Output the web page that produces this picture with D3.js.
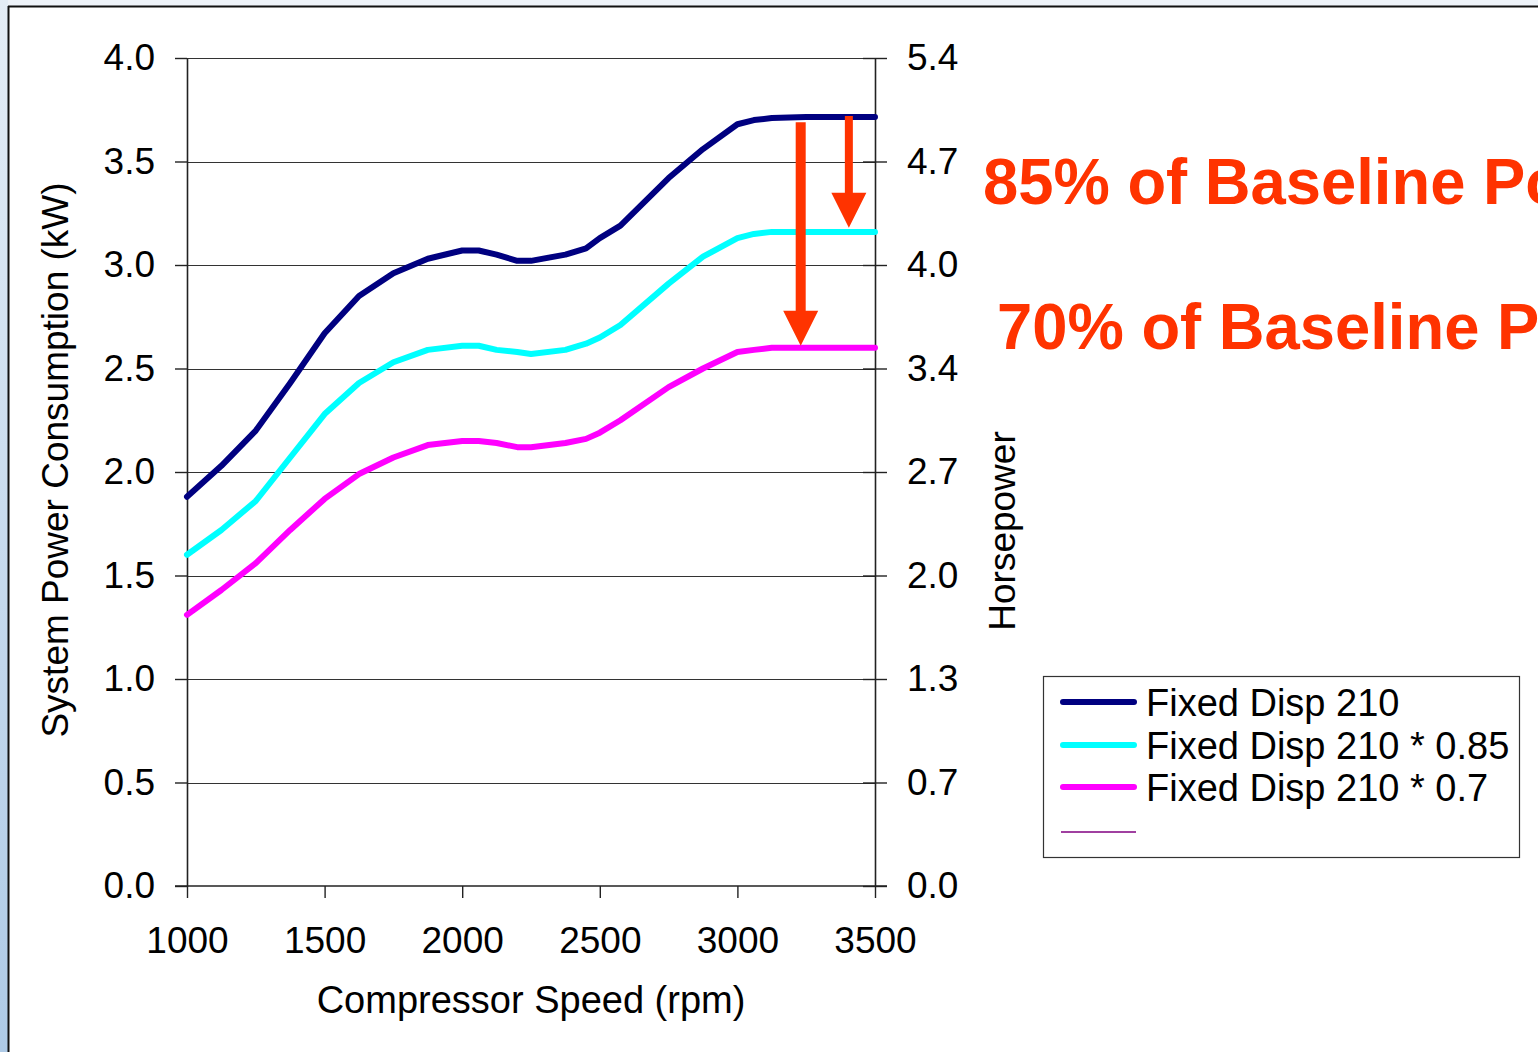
<!DOCTYPE html>
<html>
<head>
<meta charset="utf-8">
<script src="https://cdn.jsdelivr.net/npm/d3@7"></script>
<style>
  body { margin: 0; background: #eef3f9; }
  svg { display: block; }
</style>
</head>
<body>
<svg id="chart" width="1538" height="1052"></svg>
<script>
// Compressor speed samples (rpm)
const rpm = [1000, 1125, 1250, 1375, 1500, 1625, 1750, 1875, 2000, 2060, 2125, 2200, 2250,
             2375, 2450, 2500, 2575, 2750, 2875, 3000, 3060, 3125, 3250, 3500];

// System power consumption (kW)
const fixedDisp210 = [1.88, 2.03, 2.20, 2.43, 2.67, 2.85, 2.96, 3.03, 3.07, 3.07, 3.05, 3.02, 3.02,
                      3.05, 3.08, 3.13, 3.19, 3.42, 3.56, 3.68, 3.70, 3.71, 3.715, 3.715];
const fixedDisp210x085 = [1.60, 1.72, 1.86, 2.07, 2.28, 2.43, 2.53, 2.59, 2.61, 2.61, 2.59, 2.58, 2.57,
                          2.59, 2.62, 2.65, 2.71, 2.91, 3.04, 3.13, 3.15, 3.16, 3.16, 3.16];
const fixedDisp210x07 = [1.31, 1.43, 1.56, 1.72, 1.87, 1.99, 2.07, 2.13, 2.15, 2.15, 2.14, 2.12, 2.12,
                         2.14, 2.16, 2.19, 2.25, 2.41, 2.50, 2.58, 2.59, 2.60, 2.60, 2.60];

const seriesNames = ["Fixed Disp 210", "Fixed Disp 210 * 0.85", "Fixed Disp 210 * 0.7"];

// Axis ticks
const rpmTicks = [1000, 1500, 2000, 2500, 3000, 3500];
const kwTicks = [0, 0.5, 1.0, 1.5, 2.0, 2.5, 3.0, 3.5, 4.0];
const hpTickLabels = ["0.0", "0.7", "1.3", "2.0", "2.7", "3.4", "4.0", "4.7", "5.4"];

// Reduction call-outs and their arrows (rpm, from kW, to kW)
const calloutTexts = ["85% of Baseline Power", "70% of Baseline Power"];
const arrowRpm = [3405, 3230];
const arrowFromKw = [3.72, 3.69];
const arrowToKw = [3.18, 2.61];

// ---------------------------------------------------------------
const svg = d3.select("#chart");
const W = 1538, H = 1052;
const FONT = "'Liberation Sans', Arial, Helvetica, sans-serif";
const seriesColors = ["#000080", "#00ffff", "#ff00ff"];
const calloutColor = "#ff3300";

// Slide frame
const defs = svg.append("defs");
const grad = defs.append("linearGradient").attr("id", "strip").attr("x1", 0).attr("y1", 0).attr("x2", 0).attr("y2", 1);
grad.append("stop").attr("offset", "0%").attr("stop-color", "#e4edf6");
grad.append("stop").attr("offset", "100%").attr("stop-color", "#aecae6");
svg.append("rect").attr("width", W).attr("height", H).attr("fill", "#eef3f9");
svg.append("rect").attr("x", 0).attr("y", 0).attr("width", 8).attr("height", H).attr("fill", "url(#strip)");
svg.append("rect").attr("x", 8).attr("y", 6).attr("width", W - 8).attr("height", H - 6).attr("fill", "#ffffff");
svg.append("line").attr("x1", 8).attr("x2", W).attr("y1", 6.5).attr("y2", 6.5).attr("stroke", "#111").attr("stroke-width", 2);
svg.append("line").attr("x1", 8.5).attr("x2", 8.5).attr("y1", 6).attr("y2", H).attr("stroke", "#111").attr("stroke-width", 2);

// Scales
const x = d3.scaleLinear().domain([1000, 3500]).range([187, 875]);
const y = d3.scaleLinear().domain([0, 4]).range([886, 58]);

// Horizontal gridlines
svg.append("g")
  .selectAll("line")
  .data(kwTicks.filter(d => d > 0))
  .join("line")
  .attr("x1", x(1000)).attr("x2", x(3500))
  .attr("y1", d => Math.round(y(d)) + 0.5).attr("y2", d => Math.round(y(d)) + 0.5)
  .attr("stroke", "#333").attr("stroke-width", 1.2);

function styleAxis(g) {
  g.selectAll("path.domain").attr("stroke", "#222").attr("stroke-width", 1.6);
  g.selectAll(".tick line").attr("stroke", "#222").attr("stroke-width", 1.4);
  g.selectAll(".tick text").attr("font-family", FONT).attr("font-size", 37).attr("fill", "#000");
}

// Left axis (kW)
const gLeft = svg.append("g").attr("transform", `translate(${x(1000)},0)`)
  .call(d3.axisLeft(y).tickValues(kwTicks).tickFormat(d3.format(".1f")).tickSize(12).tickSizeOuter(0).tickPadding(20));
styleAxis(gLeft);

// Right axis (horsepower labels at the same positions)
const gRight = svg.append("g").attr("transform", `translate(${x(3500)},0)`)
  .call(d3.axisRight(y).tickValues(kwTicks).tickFormat((d, i) => hpTickLabels[i]).tickSize(12).tickSizeOuter(0).tickPadding(20));
styleAxis(gRight);
gRight.selectAll(".tick line").attr("x1", -12);

// Bottom axis (rpm)
const gBottom = svg.append("g").attr("transform", `translate(0,${y(0)})`)
  .call(d3.axisBottom(x).tickValues(rpmTicks).tickFormat(d3.format("d")).tickSize(12).tickSizeOuter(0).tickPadding(29));
styleAxis(gBottom);
gBottom.select("path.domain").attr("d", `M${x(1000) - 12},0H${x(3500) + 12}`);

// Axis titles
svg.append("text")
  .attr("x", x(2250)).attr("y", 1013)
  .attr("text-anchor", "middle").attr("font-family", FONT).attr("font-size", 38)
  .text("Compressor Speed (rpm)");
svg.append("text")
  .attr("transform", "translate(68,460) rotate(-90)")
  .attr("text-anchor", "middle").attr("font-family", FONT).attr("font-size", 37)
  .text("System Power Consumption (kW)");
svg.append("text")
  .attr("transform", "translate(1015,531) rotate(-90)")
  .attr("text-anchor", "middle").attr("font-family", FONT).attr("font-size", 37)
  .text("Horsepower");

// Series lines
const seriesValues = [fixedDisp210, fixedDisp210x085, fixedDisp210x07];
const line = d3.line().x(d => x(d[0])).y(d => y(d[1]));
svg.append("g")
  .selectAll("path")
  .data(seriesValues.map((vals, i) => ({ i, pts: rpm.map((r, k) => [r, vals[k]]) })).reverse())
  .join("path")
  .attr("d", d => line(d.pts))
  .attr("fill", "none")
  .attr("stroke", d => seriesColors[d.i])
  .attr("stroke-width", 6)
  .attr("stroke-linejoin", "round")
  .attr("stroke-linecap", "round");

// Arrows
const arrowShaft = [8, 10];
arrowRpm.forEach((r, i) => {
  const cx = x(r), y0 = y(arrowFromKw[i]), tip = y(arrowToKw[i]);
  const sw = arrowShaft[i] / 2, hw = 17.5, hl = 35;
  const base = tip - hl;
  const d = `M${cx - sw},${y0}H${cx + sw}V${base}H${cx + hw}L${cx},${tip}L${cx - hw},${base}H${cx - sw}Z`;
  svg.append("path").attr("d", d).attr("fill", calloutColor);
});

// Call-out text
const calloutPos = [[983, 204], [997, 349]];
calloutTexts.forEach((t, i) => {
  svg.append("text")
    .attr("transform", `translate(${calloutPos[i][0]},${calloutPos[i][1]}) scale(0.99,1)`)
    .attr("font-family", FONT).attr("font-weight", "bold").attr("font-size", 64)
    .attr("fill", calloutColor)
    .text(t);
});

// Legend
const lg = svg.append("g");
lg.append("rect").attr("x", 1043.5).attr("y", 676.5).attr("width", 476).attr("height", 181)
  .attr("fill", "#fff").attr("stroke", "#333").attr("stroke-width", 1.2);
const legendRows = [702, 745, 787];
seriesNames.forEach((name, i) => {
  lg.append("line").attr("x1", 1063).attr("x2", 1134).attr("y1", legendRows[i]).attr("y2", legendRows[i])
    .attr("stroke", seriesColors[i]).attr("stroke-width", 6).attr("stroke-linecap", "round");
  lg.append("text").attr("x", 1146).attr("y", legendRows[i] + 13.5)
    .attr("font-family", FONT).attr("font-size", 38).text(name);
});
lg.append("line").attr("x1", 1061).attr("x2", 1136).attr("y1", 832).attr("y2", 832)
  .attr("stroke", "#800080").attr("stroke-width", 1.6);
</script>
</body>
</html>
